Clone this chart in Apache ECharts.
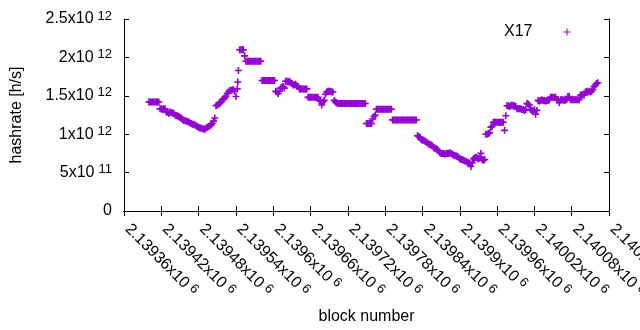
<!DOCTYPE html>
<html>
<head>
<meta charset="utf-8">
<script src="https://cdn.jsdelivr.net/npm/echarts@6/dist/echarts.min.js"></script>
<style>html,body{margin:0;padding:0;background:#fff;}#c{width:640px;height:330px;}</style>
</head>
<body>
<div id="c"></div>
<script>
// ---- data ----
const seriesName = 'X17';
const xTitle = 'block number';
const yTitle = 'hashrate [h/s]';
const baseBlock = 2139360;          // block number of offset 0
const blockStep = 2;                // spacing of consecutive values inside a run
const valueUnit = 1e12;             // hashrate values below are in units of 10^12 h/s
const xTickLabels = ['2.13936x10^6','2.13942x10^6','2.13948x10^6','2.13954x10^6','2.1396x10^6','2.13966x10^6','2.13972x10^6','2.13978x10^6','2.13984x10^6','2.1399x10^6','2.13996x10^6','2.14002x10^6','2.14008x10^6','2.14014x10^6'];
const yTickLabels = ['0','5x10^11','1x10^12','1.5x10^12','2x10^12','2.5x10^12'];
// [start block offset, hashrate values (x10^12)]
const hashrateRuns = [
  [40, [1.42,1.42,1.42,1.42,1.42,1.42,1.42,1.42,1.42]],
  [58, [1.33,1.33,1.32,1.33,1.33]],
  [68, [1.29,1.29,1.27,1.29,1.28,1.28,1.27]],
  [82, [1.25,1.24,1.24,1.23,1.22,1.21]],
  [94, [1.19,1.18,1.18,1.17,1.17,1.16,1.15]],
  [108, [1.14,1.13,1.13,1.12,1.11,1.10]],
  [120, [1.09,1.08,1.08,1.07,1.07,1.06,1.08]],
  [134, [1.09,1.10,1.11,1.12,1.14,1.17,1.21]],
  [148, [1.37,1.38,1.39,1.40,1.42]],
  [158, [1.45,1.46,1.47,1.49]],
  [166, [1.53,1.55,1.57,1.57,1.58,1.58,1.56,1.49,1.59]],
  [183, [1.68]],
  [184, [1.83]],
  [186, [2.10,2.10,2.10,2.10]],
  [194, [2.02]],
  [196, [1.95,1.95,1.95,1.95,1.95,1.95,1.95,1.95,1.95,1.95,1.95,1.95,1.95]],
  [222, [1.70,1.70,1.70,1.70,1.70,1.70,1.70,1.70,1.70,1.70,1.70]],
  [244, [1.56,1.55,1.53,1.56]],
  [252, [1.60,1.61,1.62,1.60]],
  [260, [1.69,1.69,1.68,1.69,1.67,1.66]],
  [272, [1.64,1.64,1.65,1.63,1.62]],
  [282, [1.59,1.59,1.59,1.59,1.59,1.59,1.59]],
  [296, [1.48,1.48,1.48,1.48,1.48,1.48,1.48,1.48,1.48]],
  [314, [1.44,1.43,1.38,1.42,1.44]],
  [324, [1.52,1.55,1.56,1.56,1.56,1.55,1.55]],
  [338, [1.44,1.42,1.41]],
  [344, [1.40,1.40,1.40,1.40,1.40,1.40,1.40,1.40,1.40,1.40,1.40,1.40,1.40,1.40,1.40,1.40,1.40,1.40,1.40,1.40,1.40,1.40,1.40]],
  [390, [1.14,1.14,1.14,1.14,1.14]],
  [400, [1.20,1.23,1.25]],
  [406, [1.325,1.325,1.325,1.325,1.325,1.325,1.325,1.325,1.325,1.325,1.325,1.325,1.325]],
  [432, [1.186,1.186,1.186,1.186,1.186,1.186,1.186,1.186,1.186,1.186,1.186,1.186,1.186,1.186,1.186,1.186,1.186,1.186,1.186,1.186]],
  [472, [0.98,0.97,0.96]],
  [478, [0.93,0.92,0.92,0.91,0.90,0.89]],
  [490, [0.87,0.87,0.86,0.85]],
  [498, [0.82,0.82,0.81,0.80,0.78]],
  [508, [0.76,0.75,0.75,0.75,0.74,0.75,0.75]],
  [522, [0.75,0.76,0.75,0.74,0.73]],
  [532, [0.72,0.72,0.71,0.70]],
  [540, [0.68,0.67,0.67,0.66,0.65,0.65]],
  [552, [0.63,0.63,0.62,0.58,0.63]],
  [562, [0.68,0.69,0.70,0.69,0.68,0.69,0.75]],
  [576, [0.67,0.66,0.67]],
  [582, [1.00,1.00,1.01,1.02]],
  [590, [1.09,1.10]],
  [594, [1.156,1.156,1.156,1.156,1.156,1.156,1.156,1.156,1.156]],
  [612, [1.05]],
  [614, [1.24]],
  [616, [1.37,1.37,1.36,1.37,1.38,1.37,1.37,1.36]],
  [632, [1.33,1.33,1.33,1.33]],
  [640, [1.32,1.32,1.31,1.32]],
  [648, [1.40,1.39,1.38]],
  [654, [1.32,1.31,1.30,1.32,1.26,1.31]],
  [666, [1.44,1.43,1.44,1.45,1.44,1.44,1.43,1.44,1.44,1.45]],
  [686, [1.48,1.48,1.48,1.48,1.48]],
  [696, [1.45,1.45,1.41,1.45,1.45,1.45,1.44,1.45,1.45]],
  [714, [1.49,1.49]],
  [718, [1.45,1.45,1.45,1.45,1.45,1.45,1.45,1.45]],
  [734, [1.51,1.51,1.51,1.51]],
  [742, [1.55,1.56,1.55,1.56,1.55,1.56]],
  [754, [1.58,1.62,1.64,1.66,1.67]]
];

// ---- build ----
const points = [];
hashrateRuns.forEach(function (run) {
  run[1].forEach(function (v, i) {
    points.push([baseBlock + run[0] + i * blockStep, v * valueUnit]);
  });
});

const xMin = 2139360, xMax = 2140140, xInterval = 60;
const yMin = 0, yMax = 2.5e12, yInterval = 0.5e12;
const FONT = '"Liberation Sans", Arial, sans-serif';
const FS = 16;
const PURPLE = '#9400d3';
const PLUS = 'path://M2.7,0H4.3V2.7H7V4.3H4.3V7H2.7V4.3H0V2.7H2.7Z';
const PLUS_THIN = 'path://M3,0H4V3H7V4H4V7H3V4H0V3H3Z';

function toRich(s) {
  const parts = s.split('^');
  return parts.length > 1 ? parts[0] + '{sup|' + parts[1] + '}' : parts[0];
}
const rich = {
  sup: { fontSize: 13, fontFamily: FONT, color: '#000', verticalAlign: 'top', lineHeight: 13, padding: [0, 0, 0, 4] }
};

const chart = echarts.init(document.getElementById('c'), null, { renderer: 'canvas' });
const axisLineStyle = { color: '#000', width: 1 };
chart.setOption({
  animation: false,
  backgroundColor: '#fff',
  textStyle: { fontFamily: FONT },
  grid: { left: 124, right: 31, top: 19, bottom: 119, containLabel: false, outerBoundsMode: 'none' },
  legend: {
    data: [{ name: seriesName, icon: PLUS_THIN }],
    align: 'right',
    left: 499, top: 19,
    itemWidth: 7, itemHeight: 7,
    itemStyle: { color: PURPLE },
    textStyle: { fontSize: FS, color: '#000', fontFamily: FONT, padding: [0, 26, 0, 0] }
  },
  xAxis: [{
    type: 'value', min: xMin, max: xMax, interval: xInterval,
    name: xTitle, nameLocation: 'middle', nameGap: 98,
    nameTextStyle: { fontSize: FS, color: '#000', fontFamily: FONT },
    axisLine: { show: true, lineStyle: axisLineStyle },
    axisTick: { show: true, inside: true, length: 5, lineStyle: axisLineStyle },
    splitLine: { show: false },
    axisLabel: {
      rotate: -45, margin: 12, padding: [0, 0, 0, 5], fontSize: FS, color: '#000', fontFamily: FONT,
      showMinLabel: true, showMaxLabel: true, hideOverlap: false, lineHeight: 19,
      formatter: function (v) { return toRich(xTickLabels[Math.round((v - xMin) / xInterval)] || ''); },
      rich: rich
    }
  }, {
    type: 'value', position: 'top', min: xMin, max: xMax, interval: xInterval,
    axisLine: { show: true, lineStyle: axisLineStyle },
    axisTick: { show: true, inside: true, length: 5, lineStyle: axisLineStyle },
    splitLine: { show: false }, axisLabel: { show: false }
  }],
  yAxis: [{
    type: 'value', min: yMin, max: yMax, interval: yInterval,
    name: yTitle, nameLocation: 'middle', nameGap: 99, nameRotate: 90,
    nameTextStyle: { fontSize: FS, color: '#000', fontFamily: FONT },
    axisLine: { show: true, lineStyle: axisLineStyle },
    axisTick: { show: true, inside: true, length: 5, lineStyle: axisLineStyle },
    splitLine: { show: false },
    axisLabel: {
      margin: 12, fontSize: FS, color: '#000', fontFamily: FONT, lineHeight: 19,
      formatter: function (v) { return toRich(yTickLabels[Math.round((v - yMin) / yInterval)] || ''); },
      rich: rich
    }
  }, {
    type: 'value', position: 'right', min: yMin, max: yMax, interval: yInterval,
    axisLine: { show: true, lineStyle: axisLineStyle },
    axisTick: { show: true, inside: true, length: 5, lineStyle: axisLineStyle },
    splitLine: { show: false }, axisLabel: { show: false }
  }],
  series: [{
    name: seriesName,
    type: 'scatter',
    xAxisIndex: 0, yAxisIndex: 0,
    symbol: PLUS,
    symbolSize: 7,
    itemStyle: { color: PURPLE, opacity: 1 },
    emphasis: { disabled: true },
    data: points
  }]
});
</script>
</body>
</html>
